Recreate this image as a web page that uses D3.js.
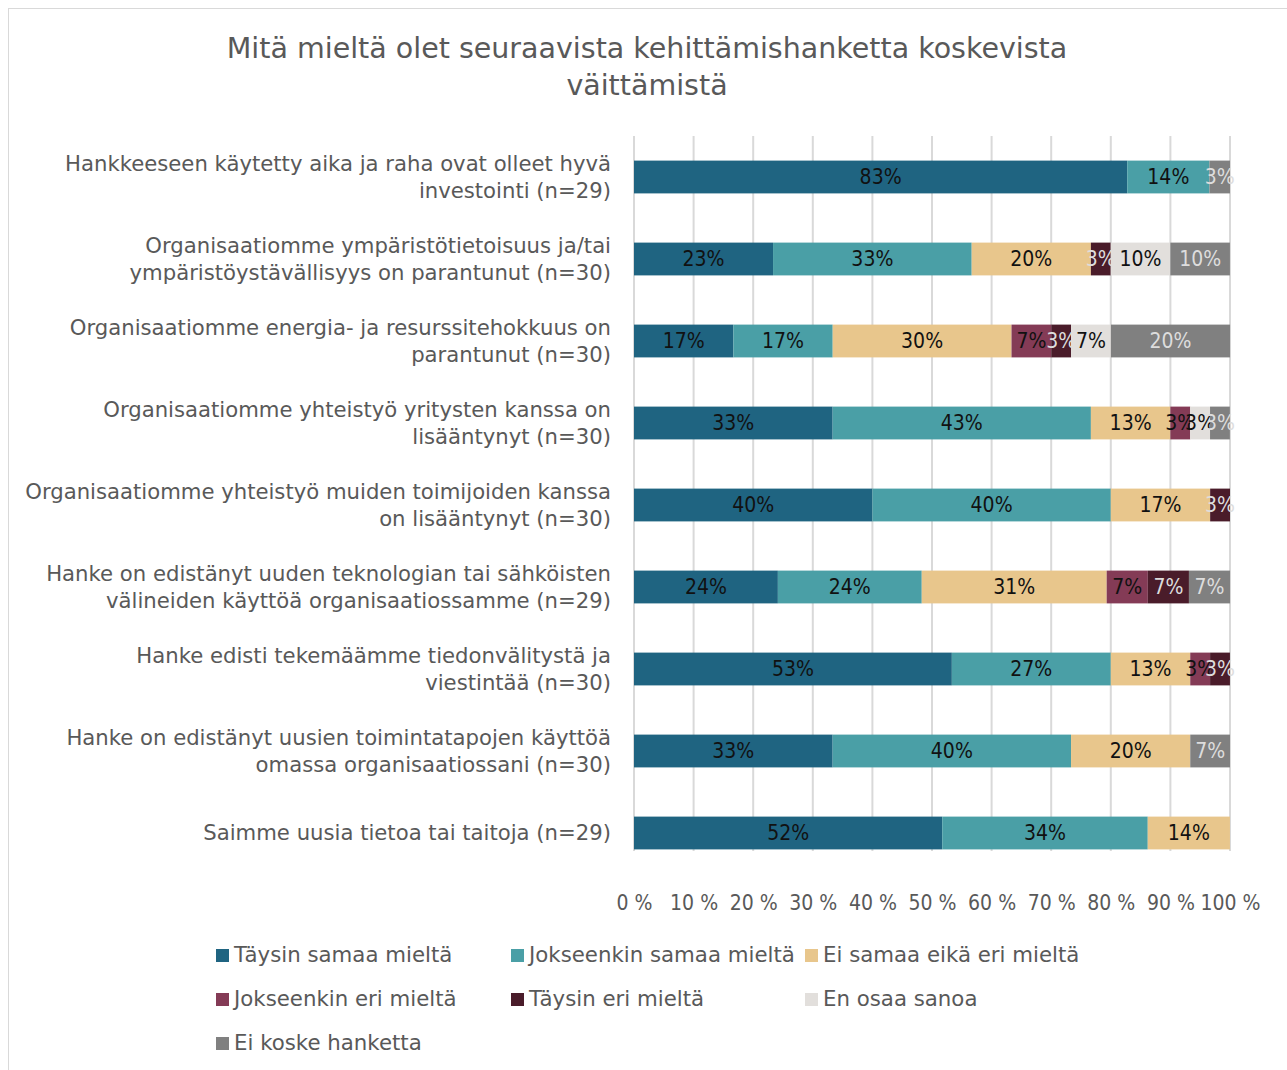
<!DOCTYPE html>
<html>
<head>
<meta charset="utf-8">
<script src="https://cdn.jsdelivr.net/npm/d3@7"></script>
<style>
  body { margin: 0; background: #fff; }
  text { font-family: "DejaVu Sans Condensed", "DejaVu Sans", sans-serif; }
  .wide { font-family: "DejaVu Sans", sans-serif; }
</style>
</head>
<body>
<svg id="chart" width="1287" height="1070"></svg>
<script>
// statements, each split in two lines as in the original
var categories = [
  ["Hankkeeseen käytetty aika ja raha ovat olleet hyvä", "investointi (n=29)"],
  ["Organisaatiomme ympäristötietoisuus ja/tai", "ympäristöystävällisyys on parantunut (n=30)"],
  ["Organisaatiomme energia- ja resurssitehokkuus on", "parantunut (n=30)"],
  ["Organisaatiomme yhteistyö yritysten kanssa on", "lisääntynyt (n=30)"],
  ["Organisaatiomme yhteistyö muiden toimijoiden kanssa", "on lisääntynyt (n=30)"],
  ["Hanke on edistänyt uuden teknologian tai sähköisten", "välineiden käyttöä organisaatiossamme (n=29)"],
  ["Hanke edisti tekemäämme tiedonvälitystä ja", "viestintää (n=30)"],
  ["Hanke on edistänyt uusien toimintatapojen käyttöä", "omassa organisaatiossani (n=30)"],
  ["Saimme uusia tietoa tai taitoja (n=29)"]
];

var seriesNames = ["Täysin samaa mieltä", "Jokseenkin samaa mieltä", "Ei samaa eikä eri mieltä",
  "Jokseenkin eri mieltä", "Täysin eri mieltä", "En osaa sanoa", "Ei koske hanketta"];

// percentages per series, one value per statement (top to bottom)
var taysinSamaa     = [82.76, 23.33, 16.67, 33.33, 40.00, 24.14, 53.33, 33.33, 51.72];
var jokseenkinSamaa = [13.79, 33.33, 16.67, 43.33, 40.00, 24.14, 26.67, 40.00, 34.48];
var eiSamaaEikaEri  = [0,     20.00, 30.00, 13.33, 16.67, 31.03, 13.33, 20.00, 13.79];
var jokseenkinEri   = [0,     0,     6.67,  3.33,  0,     6.90,  3.33,  0,     0];
var taysinEri       = [0,     3.33,  3.33,  0,     3.33,  6.90,  3.33,  0,     0];
var enOsaa          = [0,     10.00, 6.67,  3.33,  0,     0,     0,     0,     0];
var eiKoske         = [3.45,  10.00, 20.00, 3.33,  0,     6.90,  0,     6.67,  0];

var seriesValues = [taysinSamaa, jokseenkinSamaa, eiSamaaEikaEri, jokseenkinEri, taysinEri, enOsaa, eiKoske];
var colors = ["#1f6481", "#4a9fa6", "#e8c68c", "#843b56", "#4a1c2a", "#e2dfdc", "#808080"];
var labelColors = ["#111", "#111", "#111", "#111", "#ddd", "#111", "#ddd"];
var tickValues = [0, 10, 20, 30, 40, 50, 60, 70, 80, 90, 100];

var svg = d3.select("#chart");

// outer frame
svg.append("rect")
    .attr("x", 8.5).attr("y", 8.5)
    .attr("width", 1400).attr("height", 1200)
    .attr("fill", "none").attr("stroke", "#d9d9d9");

// title
var titleLines = ["Mitä mieltä olet seuraavista kehittämishanketta koskevista", "väittämistä"];
svg.append("g").selectAll("text")
    .data(titleLines)
  .enter().append("text")
    .attr("class", "wide")
    .attr("x", 647).attr("y", function(d, i) { return 58 + i * 37; })
    .attr("text-anchor", "middle")
    .style("font-size", "28.5px").style("fill", "#595959")
    .text(function(d) { return d; });

var x = d3.scaleLinear().domain([0, 100]).range([634, 1230]);
var y = d3.scaleBand().domain(d3.range(categories.length)).range([136, 874]).paddingInner(0.6).paddingOuter(0.3);

// gridlines
svg.append("g").selectAll("line")
    .data(tickValues)
  .enter().append("line")
    .attr("x1", function(d) { return x(d); })
    .attr("x2", function(d) { return x(d); })
    .attr("y1", 136).attr("y2", 851)
    .attr("stroke", "#d9d9d9").attr("stroke-width", 2);

// stacked data
var table = categories.map(function(c, i) {
  var row = {};
  seriesNames.forEach(function(s, j) { row[s] = seriesValues[j][i]; });
  row.index = i;
  return row;
});
var stacked = d3.stack().keys(seriesNames)(table);

var layer = svg.append("g").selectAll("g")
    .data(stacked)
  .enter().append("g")
    .attr("fill", function(d, i) { return colors[i]; });

layer.selectAll("rect")
    .data(function(d) { return d.filter(function(p) { return p[1] - p[0] > 0; }); })
  .enter().append("rect")
    .attr("x", function(d) { return x(d[0]); })
    .attr("width", function(d) { return x(d[1]) - x(d[0]); })
    .attr("y", function(d) { return y(d.data.index); })
    .attr("height", y.bandwidth());

layer.each(function(s, i) {
  d3.select(this).selectAll("text")
      .data(s.filter(function(p) { return p[1] - p[0] > 0; }))
    .enter().append("text")
      .attr("x", function(d) { return (x(d[0]) + x(d[1])) / 2; })
      .attr("y", function(d) { return y(d.data.index) + y.bandwidth() / 2; })
      .attr("dy", ".35em")
      .attr("text-anchor", "middle")
      .style("font-size", "21px")
      .style("fill", labelColors[i])
      .text(function(d) { return Math.round(d[1] - d[0]) + "%"; });
});

// category labels
var cat = svg.append("g").selectAll("text")
    .data(categories)
  .enter().append("text")
    .attr("class", "wide")
    .attr("text-anchor", "end")
    .style("font-size", "21.2px").style("fill", "#595959")
    .attr("transform", function(d, i) { return "translate(611," + (y(i) + y.bandwidth() / 2) + ")"; });

cat.selectAll("tspan")
    .data(function(d) { return d; })
  .enter().append("tspan")
    .attr("x", 0)
    .attr("y", function(d, i, nodes) { return nodes.length === 1 ? 0 : (i === 0 ? -13.5 : 13.5); })
    .attr("dy", ".35em")
    .text(function(d) { return d; });

// x axis labels
var axis = d3.axisBottom(x).tickValues(tickValues).tickSize(0).tickPadding(0)
    .tickFormat(function(d) { return d + " %"; });
var ax = svg.append("g").attr("transform", "translate(0,903)").call(axis);
ax.select(".domain").remove();
ax.selectAll("text")
    .attr("dy", ".35em").attr("y", 0)
    .style("font-size", "21px").style("fill", "#595959")
    .style("font-family", "'DejaVu Sans Condensed', 'DejaVu Sans', sans-serif");

// legend
var legendPos = [[216, 955], [511, 955], [805, 955], [216, 999], [511, 999], [805, 999], [216, 1043]];
var legend = svg.append("g").selectAll("g")
    .data(seriesNames)
  .enter().append("g")
    .attr("transform", function(d, i) { return "translate(" + legendPos[i][0] + "," + legendPos[i][1] + ")"; });
legend.append("rect")
    .attr("x", 0).attr("y", -6).attr("width", 13).attr("height", 13)
    .attr("fill", function(d, i) { return colors[i]; });
legend.append("text")
    .attr("class", "wide")
    .attr("x", 18).attr("dy", ".35em")
    .style("font-size", "21.3px").style("fill", "#595959")
    .text(function(d) { return d; });
</script>
</body>
</html>
